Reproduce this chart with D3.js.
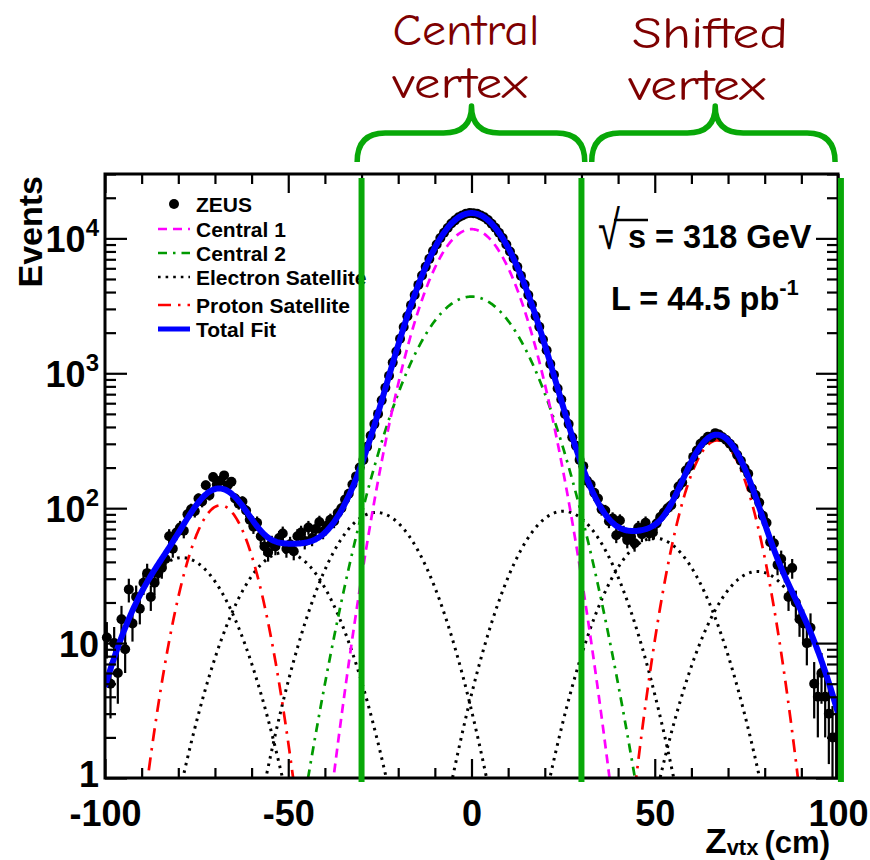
<!DOCTYPE html>
<html>
<head>
<meta charset="utf-8">
<script src="https://cdn.jsdelivr.net/npm/d3@7"></script>
<style>
  body { margin: 0; background: #fff; }
  svg { display: block; }
</style>
</head>
<body>
<svg id="chart" width="870" height="860"></svg>
<script>
// ZEUS vertex distribution: events per 1 cm bin, Z from -100 to +100 cm
const binStart = -100;
const binWidth = 1;
const zeusCounts = [
  11, 5, 10, 6, 15, 9, 25, 14, 22, 18,
  28, 33, 22, 28, 33, 36, 42, 62, 50, 66,
  72, 68, 90, 98, 95, 118, 112, 148, 125, 170,
  150, 160, 175, 148, 157, 118, 108, 112, 96, 82,
  73, 78, 62, 52, 47, 55, 52, 60, 65, 50,
  54, 48, 62, 66, 57, 72, 60, 70, 79, 67,
  74, 82, 80, 92, 100, 116, 128, 150, 172, 200,
  228, 285, 345, 420, 500, 630, 780, 960, 1200, 1450,
  1800, 2200, 2650, 3200, 3800, 4520, 5300, 6150, 7050, 8050,
  9000, 10050, 11000, 11950, 12900, 13600, 14350, 14800, 15250, 15400,
  15350, 15250, 14800, 14350, 13700, 12850, 12000, 11000, 10050, 9000,
  8000, 7100, 6150, 5280, 4550, 3800, 3230, 2650, 2210, 1780,
  1480, 1170, 975, 770, 640, 500, 420, 335, 290, 228,
  205, 160, 150, 130, 118, 98, 96, 80, 84, 63,
  81, 66, 58, 62, 55, 72, 64, 78, 65, 66,
  77, 86, 93, 100, 105, 126, 145, 155, 190, 205,
  240, 268, 300, 318, 338, 336, 360, 352, 335, 320,
  300, 280, 248, 225, 198, 180, 140, 125, 110, 88,
  78, 56, 55, 38, 42, 34, 22, 36, 20, 15,
  14, 10, 13, 5, 4, 6, 4, 3, 2, 2
];

// Gaussian fit components (mean [cm], amplitude [events], width [cm])
const centralMeans  = [0, 0];
const centralAmps   = [11700, 3700];
const centralSigmas = [8.7, 11];
const eSatMeans  = [-79, -51, -26, 25, 50, 78];
const eSatAmps   = [43, 47, 93, 95, 60, 34];
const eSatSigma  = 10;
const pSatMeans  = [-68.5, 67];
const pSatAmps   = [105, 318];
const pSatSigma  = 6.5;

// Axis ticks
const xMajor = [-100, -50, 0, 50, 100];
const xTickLabels = ['-100', '-50', '0', '50', '100'];
const yMajor = [1, 10, 100, 1000, 10000];
const yExponents = [0, 1, 2, 3, 4];

// Vertex regions marked above the plot
const regionEdges = [-30, 30, 100.8];
const braceRanges = [[-31.2, 30.9], [32.8, 99.2]];
const braceTips = [0, 66.5];
const regionTitles = [['Central', 'vertex'], ['Shifted', 'vertex']];

// Legend
const legendLabels = ['ZEUS', 'Central 1', 'Central 2', 'Electron Satellite', 'Proton Satellite', 'Total Fit'];

const svg = d3.select('#chart');
const pL = 105, pR = 838, pT = 174, pB = 778;

const x = d3.scaleLinear().domain([-100, 100]).range([pL, pR]);
const y = d3.scaleLog().domain([1, 3e4]).range([pB, pT]);

const FONT = "'Liberation Sans', Arial, Helvetica, sans-serif";

const gauss = (z, m, a, s) => a * Math.exp(-(z - m) * (z - m) / (2 * s * s));
const zGrid = d3.range(-100, 100.0001, 0.25);

const defs = svg.append('defs');
defs.append('clipPath').attr('id', 'plotClip')
  .append('rect').attr('x', pL).attr('y', pT).attr('width', pR - pL).attr('height', pB - pT);
defs.append('clipPath').attr('id', 'pointClip')
  .append('rect').attr('x', pL - 8).attr('y', pT).attr('width', pR - pL + 16).attr('height', pB - pT);

const line = d3.line()
  .x(d => x(d[0]))
  .y(d => y(Math.max(d[1], 0.05)));

const styles = {
  c1: { stroke: '#ff00ff', width: 2.7, dash: '9,6' },
  c2: { stroke: '#009a00', width: 2.7, dash: '9,6,2.5,6' },
  e:  { stroke: '#000000', width: 3, dash: '2.6,5' },
  p:  { stroke: '#ff0000', width: 2.7, dash: '13,7,2.5,7' },
  t:  { stroke: '#0000ff', width: 6, dash: null }
};

function drawCurve(g, fn, st) {
  g.append('path')
    .datum(zGrid.map(z => [z, fn(z)]))
    .attr('d', line)
    .attr('fill', 'none')
    .attr('stroke', st.stroke)
    .attr('stroke-width', st.width)
    .attr('stroke-dasharray', st.dash);
}

// ---- component curves ----
const curves = svg.append('g').attr('clip-path', 'url(#plotClip)');
eSatMeans.forEach((m, i) => drawCurve(curves, z => gauss(z, m, eSatAmps[i], eSatSigma), styles.e));
pSatMeans.forEach((m, i) => drawCurve(curves, z => gauss(z, m, pSatAmps[i], pSatSigma), styles.p));
drawCurve(curves, z => gauss(z, centralMeans[1], centralAmps[1], centralSigmas[1]), styles.c2);
drawCurve(curves, z => gauss(z, centralMeans[0], centralAmps[0], centralSigmas[0]), styles.c1);

// ---- data points with Poisson errors ----
const points = zeusCounts.map((n, i) => ({ z: binStart + binWidth * (i + 0.5), n }));
const pts = svg.append('g').attr('clip-path', 'url(#pointClip)');
pts.selectAll('line.err').data(points).join('line')
  .attr('class', 'err')
  .attr('x1', d => x(d.z)).attr('x2', d => x(d.z))
  .attr('y1', d => y(Math.max(d.n - Math.sqrt(d.n), 0.05)))
  .attr('y2', d => y(d.n + Math.sqrt(d.n)))
  .attr('stroke', '#000').attr('stroke-width', 2.2);
pts.selectAll('circle').data(points).join('circle')
  .attr('cx', d => x(d.z)).attr('cy', d => y(d.n)).attr('r', 5)
  .attr('fill', '#000');

// ---- total fit: sum of all components ----
const totalFit = z => {
  let s = 0;
  centralMeans.forEach((m, i) => s += gauss(z, m, centralAmps[i], centralSigmas[i]));
  eSatMeans.forEach((m, i) => s += gauss(z, m, eSatAmps[i], eSatSigma));
  pSatMeans.forEach((m, i) => s += gauss(z, m, pSatAmps[i], pSatSigma));
  return s;
};
const fitLayer = svg.append('g').attr('clip-path', 'url(#plotClip)');
drawCurve(fitLayer, totalFit, styles.t);

// ---- axes ----
function styleAxis(g) {
  g.select('.domain').remove();
  g.selectAll('.tick line').attr('stroke', '#000').attr('stroke-width', 2.2);
}
const xMinor = d3.range(-90, 100, 10).filter(v => !xMajor.includes(v));
svg.append('g').attr('transform', `translate(0,${pB})`)
  .call(d3.axisBottom(x).tickValues(xMinor).tickSize(-10).tickFormat(''))
  .call(styleAxis);
svg.append('g').attr('transform', `translate(0,${pT})`)
  .call(d3.axisTop(x).tickValues(xMinor).tickSize(-10).tickFormat(''))
  .call(styleAxis);
svg.append('g').attr('transform', `translate(0,${pT})`)
  .call(d3.axisTop(x).tickValues(xMajor).tickSize(-19).tickFormat(''))
  .call(styleAxis);
const gxb = svg.append('g').attr('transform', `translate(0,${pB})`)
  .call(d3.axisBottom(x).tickValues(xMajor).tickSize(-19).tickPadding(22)
        .tickFormat((d, i) => xTickLabels[i]))
  .call(styleAxis);
gxb.attr('font-family', FONT).attr('font-size', 36).attr('font-weight', 'bold');
gxb.selectAll('.tick text').attr('fill', '#000');

const yMinor = [];
[1, 10, 100, 1000, 10000].forEach(dec => {
  for (let k = 2; k <= 9; k++) { const v = dec * k; if (v <= 3e4) yMinor.push(v); }
});
svg.append('g').attr('transform', `translate(${pL},0)`)
  .call(d3.axisLeft(y).tickValues(yMinor).tickSize(-11).tickFormat(''))
  .call(styleAxis);
svg.append('g').attr('transform', `translate(${pR},0)`)
  .call(d3.axisRight(y).tickValues(yMinor).tickSize(-11).tickFormat(''))
  .call(styleAxis);
svg.append('g').attr('transform', `translate(${pR},0)`)
  .call(d3.axisRight(y).tickValues(yMajor).tickSize(-22).tickFormat(''))
  .call(styleAxis);
const gyl = svg.append('g').attr('transform', `translate(${pL},0)`)
  .call(d3.axisLeft(y).tickValues(yMajor).tickSize(-22).tickFormat(''))
  .call(styleAxis);
gyl.selectAll('.tick').each(function (d, i) {
  const e = yExponents[i];
  const t = d3.select(this).append('text')
    .attr('x', -6).attr('y', e === 0 ? -4 : 0).attr('text-anchor', 'end')
    .attr('font-family', FONT).attr('font-weight', 'bold').attr('fill', '#000');
  if (e <= 1) {
    t.append('tspan').attr('font-size', 36).attr('dy', '0.36em').text(e === 0 ? '1' : '10');
  } else {
    t.append('tspan').attr('font-size', 36).attr('dy', '0.36em').text('10');
    t.append('tspan').attr('font-size', 24).attr('dy', -16).text(String(e));
  }
});

// frame
svg.append('rect').attr('x', pL).attr('y', pT)
  .attr('width', pR - pL).attr('height', pB - pT)
  .attr('fill', 'none').attr('stroke', '#000').attr('stroke-width', 3);

// axis titles
svg.append('text')
  .attr('transform', `translate(42,${pT + 2}) rotate(-90)`)
  .attr('text-anchor', 'end')
  .attr('font-family', FONT).attr('font-weight', 'bold').attr('font-size', 34)
  .attr('fill', '#000').text('Events');
const xt = svg.append('text').attr('x', 830).attr('y', 853).attr('text-anchor', 'end')
  .attr('font-family', FONT).attr('font-weight', 'bold').attr('fill', '#000');
xt.append('tspan').attr('font-size', 35).text('Z');
xt.append('tspan').attr('font-size', 22).attr('dy', 2).text('vtx ');
xt.append('tspan').attr('font-size', 31).attr('dy', -2).text('(cm)');

// ---- legend ----
const legend = svg.append('g').attr('font-family', FONT).attr('font-weight', 'bold')
  .attr('font-size', 21).attr('fill', '#000');
const legendY = [204, 229, 253, 277, 305, 329];
const legendStyles = [null, styles.c1, styles.c2, styles.e, styles.p, styles.t];
legendLabels.forEach((lab, i) => {
  const yy = legendY[i];
  if (i === 0) {
    legend.append('circle').attr('cx', 174).attr('cy', yy).attr('r', 5).attr('fill', '#000');
  } else {
    const st = legendStyles[i];
    legend.append('line').attr('x1', 158).attr('x2', 190).attr('y1', yy).attr('y2', yy)
      .attr('stroke', st.stroke).attr('stroke-width', i === 5 ? 5 : 2.7)
      .attr('stroke-dasharray', st.dash);
  }
  legend.append('text').attr('x', 196).attr('y', yy + 7.5).text(lab);
});

// ---- beam conditions ----
const info = svg.append('g').attr('font-family', FONT).attr('font-weight', 'bold').attr('fill', '#000');
info.append('text')
  .attr('transform', 'translate(598,249) scale(1,1.35)')
  .attr('font-size', 40).attr('font-weight', 'normal')
  .text('√');
info.append('line').attr('x1', 614).attr('x2', 648).attr('y1', 220).attr('y2', 220)
  .attr('stroke', '#000').attr('stroke-width', 2.6);
info.append('text').attr('x', 628).attr('y', 248).attr('font-size', 32.5).text('s = 318 GeV');
const lumi = info.append('text').attr('x', 611).attr('y', 310).attr('font-size', 32.5);
lumi.append('tspan').text('L = 44.5 pb');
lumi.append('tspan').attr('font-size', 22).attr('dy', -15).text('-1');

// ---- vertex region markers ----
const green = '#08a808';
const overlay = svg.append('g');
overlay.selectAll('line.edge').data(regionEdges).join('line')
  .attr('class', 'edge')
  .attr('x1', d => x(d)).attr('x2', d => x(d))
  .attr('y1', pT + 4).attr('y2', pB + 4)
  .attr('stroke', green).attr('stroke-width', 6);

const braceY0 = 162, braceY1 = 133, braceTipY = 106, rr = 28;
braceRanges.forEach((rg, i) => {
  const a = x(rg[0]), b = x(rg[1]), m = x(braceTips[i]);
  const p = d3.path();
  p.moveTo(a, braceY0);
  p.quadraticCurveTo(a, braceY1, a + rr, braceY1);
  p.lineTo(m - rr, braceY1);
  p.quadraticCurveTo(m, braceY1, m, braceTipY);
  p.quadraticCurveTo(m, braceY1, m + rr, braceY1);
  p.lineTo(b - rr, braceY1);
  p.quadraticCurveTo(b, braceY1, b, braceY0);
  overlay.append('path').attr('d', p.toString())
    .attr('fill', 'none').attr('stroke', green).attr('stroke-width', 5.5)
    .attr('stroke-linejoin', 'round');
});

const titleFont = "'Comic Sans MS', 'Comic Neue', 'DejaVu Sans', sans-serif";
const titlePos = [
  [{ cx: 466, y: 45, w: 147 }, { cx: 460, y: 98, w: 135 }],
  [{ cx: 710, y: 48, w: 156 }, { cx: 697, y: 100, w: 137 }]
];
regionTitles.forEach((lines, i) => {
  lines.forEach((txt, j) => {
    const p = titlePos[i][j];
    overlay.append('text')
      .attr('x', p.cx).attr('y', p.y).attr('text-anchor', 'middle')
      .attr('font-family', titleFont).attr('font-size', 44)
      .attr('fill', '#7e0000')
      .attr('textLength', p.w).attr('lengthAdjust', 'spacingAndGlyphs')
      .text(txt);
  });
});
</script>
</body>
</html>
